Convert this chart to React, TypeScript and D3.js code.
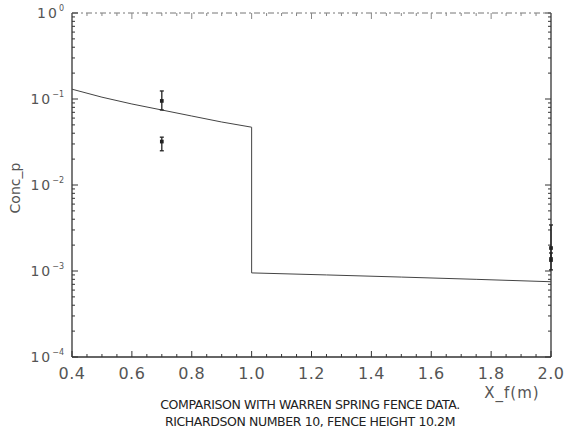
import React from "react";
import * as d3 from "d3";

const curveX = [0.4, 0.5, 0.6, 0.7, 0.8, 0.9, 1.0, 1.0, 1.25, 1.5, 1.75, 2.0];
const curveY = [0.13, 0.105, 0.0875, 0.0745, 0.0634, 0.054, 0.047, 0.00095, 0.0009, 0.00085, 0.0008, 0.00075];

const pointX = [0.7, 0.7, 2.0, 2.0];
const pointY = [0.095, 0.032, 0.00185, 0.00134];
const pointLo = [0.0745, 0.025, 0.00142, 0.00103];
const pointHi = [0.124, 0.036, 0.00343, 0.00162];

const xTicks = [0.4, 0.6, 0.8, 1.0, 1.2, 1.4, 1.6, 1.8, 2.0];
const xTickLabels = ["0.4", "0.6", "0.8", "1.0", "1.2", "1.4", "1.6", "1.8", "2.0"];
const yExponents = [0, -1, -2, -3, -4];

const titleLines = [
  "COMPARISON WITH WARREN SPRING FENCE DATA.",
  "RICHARDSON NUMBER 10, FENCE HEIGHT 10.2M",
];

export default function App() {
  const W = 564, H = 431;
  const left = 72, right = 551, top = 13, bottom = 357;
  const x = d3.scaleLinear().domain([0.4, 2.0]).range([left, right]);
  const y = d3.scaleLog().domain([1e-4, 1]).range([bottom, top]);
  const line = d3.line<number>().x((_, i) => x(curveX[i])).y((d) => y(d));
  const ink = "#333";
  const font = "'DejaVu Sans', sans-serif";

  const minorX = d3.range(0.4, 2.0001, 0.05).map((v) => +v.toFixed(2));
  const minorY: number[] = [];
  for (let e = -4; e < 0; e++) for (let k = 2; k <= 9; k++) minorY.push(k * Math.pow(10, e));

  return (
    <svg width={W} height={H} style={{ position: "absolute", left: 0, top: 0, background: "#fff" }}>
      {/* frame */}
      <line x1={left} y1={top} x2={left} y2={bottom} stroke={ink} strokeWidth={1.3} />
      <line x1={left} y1={bottom} x2={right} y2={bottom} stroke={ink} strokeWidth={1.3} />
      <line x1={right} y1={top} x2={right} y2={bottom} stroke={ink} strokeWidth={1.3} />
      <line x1={left} y1={top} x2={right} y2={top} stroke="#777" strokeWidth={1} strokeDasharray="6 3 2 3" />
      {/* x ticks */}
      {minorX.map((v, i) => {
        const major = Math.abs((v - 0.4) / 0.2 - Math.round((v - 0.4) / 0.2)) < 1e-6;
        const len = major ? 6 : 3;
        return (
          <g key={"xt" + i}>
            <line x1={x(v)} x2={x(v)} y1={bottom} y2={bottom - len} stroke={ink} strokeWidth={1} />
            <line x1={x(v)} x2={x(v)} y1={top} y2={top + len} stroke="#888" strokeWidth={1} />
          </g>
        );
      })}
      {/* y ticks */}
      {yExponents.map((e) => (
        <g key={"ymaj" + e}>
          <line x1={left} x2={left + 6} y1={y(Math.pow(10, e))} y2={y(Math.pow(10, e))} stroke={ink} />
          <line x1={right} x2={right - 6} y1={y(Math.pow(10, e))} y2={y(Math.pow(10, e))} stroke={ink} />
        </g>
      ))}
      {minorY.map((v, i) => (
        <g key={"ymin" + i}>
          <line x1={left} x2={left + 3} y1={y(v)} y2={y(v)} stroke={ink} />
          <line x1={right} x2={right - 3} y1={y(v)} y2={y(v)} stroke={ink} />
        </g>
      ))}
      {/* x tick labels */}
      {xTicks.map((v, i) => (
        <text key={"xl" + i} x={x(v)} y={bottom + 22} textAnchor="middle" fontFamily={font} fontSize={16} fill="#555" letterSpacing={0.5}>
          {xTickLabels[i]}
        </text>
      ))}
      {/* y tick labels */}
      {yExponents.map((e) => (
        <text key={"yl" + e} x={left - 8} y={y(Math.pow(10, e)) + 5} textAnchor="end" fontFamily={font} fontSize={14} fill="#555">
          <tspan letterSpacing={2}>10</tspan>
          <tspan dy={-7} fontSize={8}>{e === 0 ? "0" : "−" + Math.abs(e)}</tspan>
        </text>
      ))}
      {/* axis labels */}
      <text x={20} y={(top + bottom) / 2 + 3} transform={`rotate(-90 20 ${(top + bottom) / 2 + 3})`} textAnchor="middle" fontFamily={font} fontSize={14} fill="#555">
        Conc_p
      </text>
      <text x={512} y={398} textAnchor="middle" fontFamily={font} fontSize={15} fill="#555" letterSpacing={1}>
        X_f(m)
      </text>
      {titleLines.map((t, i) => (
        <text key={"t" + i} x={310} y={409 + i * 17} textAnchor="middle" fontFamily={font} fontSize={12.5} fill="#222" letterSpacing={-0.4}>
          {t}
        </text>
      ))}
      {/* curve */}
      <path d={line(curveY) || ""} fill="none" stroke="#444" strokeWidth={1} />
      {/* error bars */}
      {pointX.map((px, i) => (
        <g key={"p" + i} stroke="#222" strokeWidth={1.3}>
          <line x1={x(px)} x2={x(px)} y1={y(pointLo[i])} y2={y(pointHi[i])} />
          <line x1={x(px) - 2} x2={x(px) + 2} y1={y(pointLo[i])} y2={y(pointLo[i])} />
          <line x1={x(px) - 2} x2={x(px) + 2} y1={y(pointHi[i])} y2={y(pointHi[i])} />
          <rect x={x(px) - 1.2} y={y(pointY[i]) - 1.2} width={2.4} height={2.4} fill="#222" />
        </g>
      ))}
    </svg>
  );
}
